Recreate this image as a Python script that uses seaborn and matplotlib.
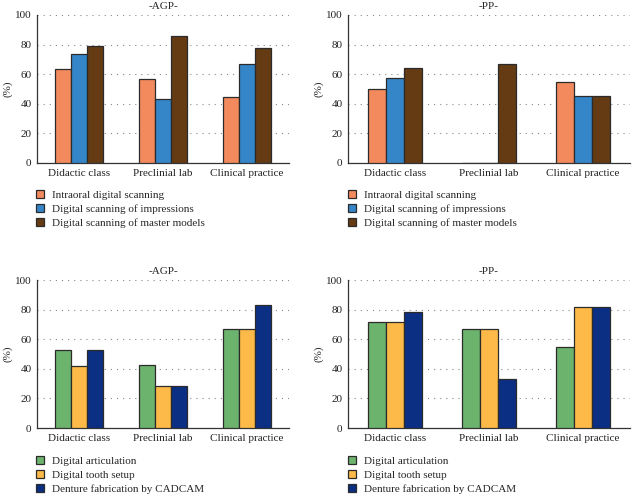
import matplotlib
matplotlib.use("Agg")
import matplotlib.pyplot as plt
import pandas as pd
import seaborn as sns

stages = ["Didactic class", "Preclinial lab", "Clinical practice"]

scan_labels = ["Intraoral digital scanning", "Digital scanning of impressions",
               "Digital scanning of master models"]
scan_agp_intraoral = [63.3, 57.0, 44.4]
scan_agp_impressions = [73.6, 43.0, 66.7]
scan_agp_master = [79.0, 85.7, 77.8]
scan_pp_intraoral = [50.0, 0.0, 54.5]
scan_pp_impressions = [57.1, 0.0, 45.5]
scan_pp_master = [64.3, 66.7, 45.5]

cad_labels = ["Digital articulation", "Digital tooth setup", "Denture fabrication by CADCAM"]
cad_agp_artic = [52.6, 42.9, 66.7]
cad_agp_setup = [42.1, 28.6, 66.7]
cad_agp_fab = [52.6, 28.6, 83.3]
cad_pp_artic = [71.4, 66.7, 54.5]
cad_pp_setup = [71.4, 66.7, 81.8]
cad_pp_fab = [78.6, 33.3, 81.8]

scan_colors = ["#F28A5E", "#3586C8", "#653B14"]
cad_colors = ["#6CB46D", "#FDBA48", "#0B2F82"]

sns.set_style("white")
plt.rcParams["font.family"] = ["Liberation Serif", "DejaVu Serif"]
plt.rcParams["font.size"] = 8


def make_df(labels, series):
    rows = []
    for lab, vals in zip(labels, series):
        for st, v in zip(stages, vals):
            rows.append({"stage": st, "group": lab, "value": v})
    return pd.DataFrame(rows)


def panel(fig, rect, title, labels, series, colors, leg_x, leg_y):
    ax = fig.add_axes(rect)
    df = make_df(labels, series)
    sns.barplot(data=df, x="stage", y="value", hue="group", hue_order=labels,
                order=stages, palette=colors, width=0.58, edgecolor="#2b2b2b",
                linewidth=0.9, saturation=1, ax=ax, zorder=3)
    ax.set_ylim(0, 100)
    ax.set_xlim(-0.5, 2.5)
    ax.set_yticks([0, 20, 40, 60, 80, 100])
    ax.yaxis.grid(True, linestyle=(0, (1, 4.5)), color="#888888", linewidth=0.8, zorder=0)
    ax.xaxis.grid(False)
    ax.set_axisbelow(True)
    for s in ["top", "right"]:
        ax.spines[s].set_visible(False)
    for s in ["left", "bottom"]:
        ax.spines[s].set_color("#333333")
        ax.spines[s].set_linewidth(0.9)
    ax.tick_params(axis="both", length=0, labelsize=8, colors="#222222", pad=4)
    ax.set_xlabel("")
    ax.set_ylabel("(%)", fontsize=8, labelpad=2)
    ax.set_title(title, fontsize=8, pad=4.5)
    handles, labs = ax.get_legend_handles_labels()
    ax.legend(handles, labs, loc="center left", bbox_to_anchor=(leg_x, leg_y),
              bbox_transform=fig.transFigure, frameon=False, fontsize=8,
              handlelength=0.7, handleheight=0.7, handletextpad=0.75,
              labelspacing=0.36, borderpad=0, borderaxespad=0)
    return ax


fig = plt.figure(figsize=(6.32, 4.96), dpi=100)

W, H = 632.0, 496.0
top_b = 1 - 163 / H
bot_b = 1 - 428 / H
h = 148 / H
lw = (289 - 37) / W
rw = (630 - 348) / W

panel(fig, [37 / W, top_b, lw, h], "-AGP-", scan_labels,
      [scan_agp_intraoral, scan_agp_impressions, scan_agp_master], scan_colors,
      36 / W, 1 - 209 / H)
panel(fig, [348 / W, top_b, rw, h], "-PP-", scan_labels,
      [scan_pp_intraoral, scan_pp_impressions, scan_pp_master], scan_colors,
      348 / W, 1 - 209 / H)
panel(fig, [37 / W, bot_b, lw, h], "-AGP-", cad_labels,
      [cad_agp_artic, cad_agp_setup, cad_agp_fab], cad_colors,
      36 / W, 1 - 475 / H)
panel(fig, [348 / W, bot_b, rw, h], "-PP-", cad_labels,
      [cad_pp_artic, cad_pp_setup, cad_pp_fab], cad_colors,
      348 / W, 1 - 475 / H)

fig.savefig("out.png", dpi=100)
